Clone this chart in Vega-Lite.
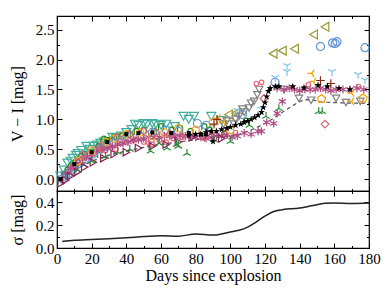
{
  "$schema": "https://vega.github.io/schema/vega-lite/v6.json",
  "padding": {"left": 8, "top": 14, "right": 5, "bottom": 5},
  "spacing": 0,
  "bounds": "flush",
  "config": {
    "view": {"stroke": "black", "strokeWidth": 1.2},
    "font": "Liberation Serif",
    "axis": {"labelFont": "Liberation Serif", "titleFont": "Liberation Serif", "labelFontSize": 15, "titleFontSize": 16, "labelColor": "black", "titleColor": "black", "titleFontWeight": "normal", "domain": false, "grid": false, "tickColor": "black", "tickWidth": 1, "labelFlush": false, "labelOverlap": false}
  },
  "datasets": {
    "pts": [
      {"s":"teal","d":2,"v":0.05},{"s":"teal","d":4,"v":0.15},{"s":"teal","d":6,"v":0.27},{"s":"teal","d":8,"v":0.3},{"s":"teal","d":9,"v":0.35},{"s":"teal","d":11,"v":0.4},{"s":"teal","d":12,"v":0.43},{"s":"teal","d":14,"v":0.48},{"s":"teal","d":17,"v":0.55},{"s":"teal","d":19,"v":0.5},{"s":"teal","d":21,"v":0.55},{"s":"teal","d":23,"v":0.57},{"s":"teal","d":25,"v":0.6},{"s":"teal","d":27,"v":0.62},{"s":"teal","d":28,"v":0.6},{"s":"teal","d":30,"v":0.63},{"s":"teal","d":32,"v":0.7},{"s":"teal","d":34,"v":0.68},{"s":"teal","d":37,"v":0.72},{"s":"teal","d":40,"v":0.78},{"s":"teal","d":43,"v":0.83},{"s":"teal","d":45,"v":0.92},{"s":"teal","d":47,"v":0.9},{"s":"teal","d":50,"v":0.93},{"s":"teal","d":52,"v":0.92},{"s":"teal","d":55,"v":0.93},{"s":"teal","d":57,"v":0.92},{"s":"teal","d":60,"v":0.9},{"s":"teal","d":63,"v":0.92},{"s":"teal","d":68,"v":0.88},{"s":"teal","d":73,"v":1.05},{"s":"teal","d":76,"v":1.0},{"s":"teal","d":79,"v":1.05},{"s":"teal","d":89,"v":1.05},{"s":"teal","d":95,"v":0.98},
      {"s":"green","d":2,"v":-0.03},{"s":"green","d":4,"v":0.08},{"s":"green","d":6,"v":0.15},{"s":"green","d":8,"v":0.22},{"s":"green","d":10,"v":0.27},{"s":"green","d":12,"v":0.3},{"s":"green","d":14,"v":0.38},{"s":"green","d":16,"v":0.42},{"s":"green","d":19,"v":0.45},{"s":"green","d":22,"v":0.42},{"s":"green","d":24,"v":0.55},{"s":"green","d":27,"v":0.67},{"s":"green","d":29,"v":0.65},{"s":"green","d":33,"v":0.7},{"s":"green","d":37,"v":0.72},{"s":"green","d":41,"v":0.75},{"s":"green","d":46,"v":0.8},{"s":"green","d":50,"v":0.82},{"s":"green","d":56,"v":0.8},{"s":"green","d":60,"v":0.88},{"s":"green","d":66,"v":0.82},{"s":"green","d":71,"v":0.85},{"s":"green","d":77,"v":0.8},{"s":"green","d":85,"v":0.88},{"s":"green","d":88,"v":0.82},{"s":"green","d":97,"v":0.75},{"s":"green","d":109,"v":0.97},
      {"s":"blue","d":3,"v":0.0},{"s":"blue","d":5,"v":0.05},{"s":"blue","d":7,"v":0.1},{"s":"blue","d":9,"v":0.15},{"s":"blue","d":10,"v":0.22},{"s":"blue","d":12,"v":0.25},{"s":"blue","d":14,"v":0.3},{"s":"blue","d":16,"v":0.33},{"s":"blue","d":18,"v":0.4},{"s":"blue","d":21,"v":0.42},{"s":"blue","d":25,"v":0.5},{"s":"blue","d":29,"v":0.55},{"s":"blue","d":33,"v":0.6},{"s":"blue","d":37,"v":0.65},{"s":"blue","d":42,"v":0.7},{"s":"blue","d":48,"v":0.72},{"s":"blue","d":55,"v":0.78},{"s":"blue","d":63,"v":0.82},{"s":"blue","d":70,"v":0.8},{"s":"blue","d":81,"v":0.93},{"s":"blue","d":86,"v":0.9},{"s":"blue","d":107,"v":1.08},{"s":"blue","d":125.8,"v":1.62},{"s":"blue","d":152,"v":2.22},{"s":"blue","d":159,"v":2.28},{"s":"blue","d":160.5,"v":2.27},{"s":"blue","d":161.5,"v":2.3},{"s":"blue","d":177.7,"v":2.2},
      {"s":"olive","d":99,"v":1.08},{"s":"olive","d":103,"v":1.1},{"s":"olive","d":124.7,"v":2.1},{"s":"olive","d":130,"v":2.15},{"s":"olive","d":137,"v":2.18},{"s":"olive","d":148,"v":2.42},{"s":"olive","d":154.6,"v":2.55},
      {"s":"lblue","d":104,"v":1.15},{"s":"lblue","d":118,"v":1.17},{"s":"lblue","d":126,"v":1.7},{"s":"lblue","d":132.7,"v":1.8},{"s":"lblue","d":132.7,"v":1.9},{"s":"lblue","d":158.7,"v":1.8},{"s":"lblue","d":173.7,"v":1.75},{"s":"lblue","d":177.7,"v":1.66},
      {"s":"gray","d":96,"v":0.92},{"s":"gray","d":98,"v":0.97},{"s":"gray","d":102,"v":0.92},{"s":"gray","d":103,"v":1.0},{"s":"gray","d":105,"v":1.05},{"s":"gray","d":107,"v":1.17},{"s":"gray","d":108,"v":1.12},{"s":"gray","d":110.8,"v":1.19},{"s":"gray","d":112,"v":1.27},{"s":"gray","d":113.7,"v":1.3},{"s":"gray","d":115.6,"v":1.41},{"s":"gray","d":116.6,"v":1.5},{"s":"gray","d":131,"v":1.5},{"s":"gray","d":139.6,"v":1.35},{"s":"gray","d":146.6,"v":1.32},{"s":"gray","d":161,"v":1.35},{"s":"gray","d":166.7,"v":1.28},{"s":"gray","d":175,"v":1.3},
      {"s":"pink","d":8,"v":0.2},{"s":"pink","d":12,"v":0.3},{"s":"pink","d":15,"v":0.35},{"s":"pink","d":18,"v":0.4},{"s":"pink","d":21,"v":0.42},{"s":"pink","d":25,"v":0.5},{"s":"pink","d":28,"v":0.48},{"s":"pink","d":31,"v":0.55},{"s":"pink","d":34,"v":0.5},{"s":"pink","d":37,"v":0.6},{"s":"pink","d":40,"v":0.62},{"s":"pink","d":44,"v":0.65},{"s":"pink","d":46,"v":0.67},{"s":"pink","d":50,"v":0.62},{"s":"pink","d":53,"v":0.6},{"s":"pink","d":55,"v":0.58},{"s":"pink","d":59,"v":0.65},{"s":"pink","d":63,"v":0.62},{"s":"pink","d":67,"v":0.68},{"s":"pink","d":72,"v":0.7},{"s":"pink","d":77,"v":0.72},{"s":"pink","d":84,"v":0.7},{"s":"pink","d":91,"v":0.75},{"s":"pink","d":97,"v":0.78},{"s":"pink","d":103,"v":0.78},{"s":"pink","d":115,"v":1.6},{"s":"pink","d":118,"v":1.62},{"s":"pink","d":145,"v":1.58},{"s":"pink","d":174,"v":1.55},
      {"s":"mauve","d":5,"v":0.1},{"s":"mauve","d":8,"v":0.18},{"s":"mauve","d":11,"v":0.25},{"s":"mauve","d":14,"v":0.3},{"s":"mauve","d":17,"v":0.37},{"s":"mauve","d":20,"v":0.42},{"s":"mauve","d":23,"v":0.47},{"s":"mauve","d":26,"v":0.5},{"s":"mauve","d":29,"v":0.52},{"s":"mauve","d":32,"v":0.55},{"s":"mauve","d":35,"v":0.58},{"s":"mauve","d":38,"v":0.6},{"s":"mauve","d":41,"v":0.62},{"s":"mauve","d":44,"v":0.65},{"s":"mauve","d":47,"v":0.66},{"s":"mauve","d":50,"v":0.68},{"s":"mauve","d":53,"v":0.7},{"s":"mauve","d":56,"v":0.69},{"s":"mauve","d":59,"v":0.7},{"s":"mauve","d":62,"v":0.72},{"s":"mauve","d":65,"v":0.72},{"s":"mauve","d":68,"v":0.71},{"s":"mauve","d":71,"v":0.73},{"s":"mauve","d":74,"v":0.72},{"s":"mauve","d":77,"v":0.72},{"s":"mauve","d":80,"v":0.7},{"s":"mauve","d":83,"v":0.7},{"s":"mauve","d":86,"v":0.68},{"s":"mauve","d":89,"v":0.7},{"s":"mauve","d":92,"v":0.72},{"s":"mauve","d":95,"v":0.72},{"s":"mauve","d":98,"v":0.74},{"s":"mauve","d":101,"v":0.7},{"s":"mauve","d":104,"v":0.72},{"s":"mauve","d":108,"v":0.77},{"s":"mauve","d":112,"v":0.75},{"s":"mauve","d":116,"v":0.8},{"s":"mauve","d":118,"v":0.8},{"s":"mauve","d":121,"v":0.95},{"s":"mauve","d":125,"v":0.93},{"s":"mauve","d":127,"v":1.1},{"s":"mauve","d":130,"v":1.3},{"s":"mauve","d":127,"v":1.52},{"s":"mauve","d":131,"v":1.5},{"s":"mauve","d":134,"v":1.52},{"s":"mauve","d":137,"v":1.5},{"s":"mauve","d":140,"v":1.48},{"s":"mauve","d":143,"v":1.5},{"s":"mauve","d":146,"v":1.5},{"s":"mauve","d":149,"v":1.5},{"s":"mauve","d":152,"v":1.52},{"s":"mauve","d":155,"v":1.5},{"s":"mauve","d":158,"v":1.48},{"s":"mauve","d":161,"v":1.5},{"s":"mauve","d":165,"v":1.5},{"s":"mauve","d":169,"v":1.5},{"s":"mauve","d":173,"v":1.52},{"s":"mauve","d":177,"v":1.5},
      {"s":"wine","d":2.3,"v":-0.07},{"s":"wine","d":5,"v":-0.02},{"s":"wine","d":8,"v":0.05},{"s":"wine","d":12,"v":0.12},{"s":"wine","d":16,"v":0.2},{"s":"wine","d":21,"v":0.28},{"s":"wine","d":27,"v":0.35},{"s":"wine","d":33,"v":0.42},{"s":"wine","d":40,"v":0.45},{"s":"wine","d":47,"v":0.52},{"s":"wine","d":55,"v":0.55},{"s":"wine","d":63,"v":0.58},{"s":"wine","d":70,"v":0.62},{"s":"wine","d":78,"v":0.7},{"s":"wine","d":87.7,"v":0.77},{"s":"wine","d":95,"v":0.68},
      {"s":"greent","d":12,"v":0.15},{"s":"greent","d":20,"v":0.3},{"s":"greent","d":28,"v":0.38},{"s":"greent","d":35,"v":0.45},{"s":"greent","d":42,"v":0.5},{"s":"greent","d":54,"v":0.47},{"s":"greent","d":58.8,"v":0.6},{"s":"greent","d":63.5,"v":0.52},{"s":"greent","d":69,"v":0.58},{"s":"greent","d":70,"v":0.55},{"s":"greent","d":75,"v":0.43},{"s":"greent","d":90.6,"v":0.66},{"s":"greent","d":100,"v":0.63},{"s":"greent","d":111,"v":0.9},{"s":"greent","d":120.6,"v":1.05},{"s":"greent","d":128,"v":1.18},{"s":"greent","d":151,"v":1.13},{"s":"greent","d":153,"v":1.13},
      {"s":"orangec","d":12,"v":0.3},{"s":"orangec","d":20,"v":0.48},{"s":"orangec","d":28,"v":0.62},{"s":"orangec","d":33,"v":0.68},{"s":"orangec","d":40,"v":0.75},{"s":"orangec","d":48,"v":0.78},{"s":"orangec","d":55,"v":0.72},{"s":"orangec","d":62,"v":0.78},{"s":"orangec","d":70,"v":0.85},{"s":"orangec","d":80,"v":0.82},{"s":"orangec","d":90,"v":0.95},{"s":"orangec","d":100,"v":0.82},
      {"s":"orange","d":93,"v":1.02},{"s":"orange","d":96,"v":0.95},{"s":"orange","d":147,"v":1.77},{"s":"orange","d":148,"v":1.63},{"s":"orange","d":170,"v":1.44},{"s":"orange","d":170,"v":1.3},
      {"s":"orangep","d":152.6,"v":1.34},{"s":"orangep","d":176.5,"v":1.35},
      {"s":"brown","d":90.6,"v":0.92},{"s":"brown","d":92.3,"v":1.0},{"s":"brown","d":152,"v":1.65},{"s":"brown","d":158,"v":1.6},
      {"s":"rose","d":15,"v":0.4},{"s":"rose","d":25,"v":0.55},{"s":"rose","d":35,"v":0.7},{"s":"rose","d":42,"v":0.75},{"s":"rose","d":50,"v":0.8},{"s":"rose","d":57,"v":0.78},{"s":"rose","d":65,"v":0.75},{"s":"rose","d":72,"v":0.72},{"s":"rose","d":85,"v":0.7},{"s":"rose","d":119.4,"v":1.35},{"s":"rose","d":154.6,"v":0.92},
      {"s":"blackstar","d":76,"v":0.73},{"s":"blackstar","d":80,"v":0.75},{"s":"blackstar","d":83,"v":0.75},{"s":"blackstar","d":86,"v":0.78},{"s":"blackstar","d":89,"v":0.8},{"s":"blackstar","d":90,"v":0.63},{"s":"blackstar","d":92,"v":0.8},{"s":"blackstar","d":95,"v":0.83},{"s":"blackstar","d":98,"v":0.85},{"s":"blackstar","d":100,"v":0.87},{"s":"blackstar","d":103,"v":0.9},{"s":"blackstar","d":106,"v":0.92},{"s":"blackstar","d":108,"v":0.95},{"s":"blackstar","d":110,"v":0.97},{"s":"blackstar","d":112,"v":1.0},{"s":"blackstar","d":114,"v":1.03},{"s":"blackstar","d":116,"v":1.07},{"s":"blackstar","d":118,"v":1.12},{"s":"blackstar","d":119,"v":1.2},{"s":"blackstar","d":120,"v":1.28},{"s":"blackstar","d":121,"v":1.38},{"s":"blackstar","d":122,"v":1.47},{"s":"blackstar","d":123,"v":1.52},{"s":"blackstar","d":126,"v":1.55},{"s":"blackstar","d":128,"v":1.55},{"s":"blackstar","d":136,"v":1.55},{"s":"blackstar","d":142.5,"v":1.53},{"s":"blackstar","d":150.6,"v":1.57},{"s":"blackstar","d":156,"v":1.55},{"s":"blackstar","d":162.7,"v":1.52},{"s":"blackstar","d":169,"v":1.5},
      {"s":"blacksq","d":2,"v":0.0},{"s":"blacksq","d":10,"v":0.25},{"s":"blacksq","d":20,"v":0.45},{"s":"blacksq","d":29,"v":0.62},{"s":"blacksq","d":40,"v":0.75},{"s":"blacksq","d":47,"v":0.77},{"s":"blacksq","d":55,"v":0.78},{"s":"blacksq","d":66,"v":0.77},{"s":"blacksq","d":76,"v":0.77},{"s":"blacksq","d":83,"v":0.75},{"s":"blacksq","d":86,"v":0.75}
    ],
    "dash": [
      {"d":0,"v":-0.05},{"d":5,"v":0.05},{"d":10,"v":0.15},{"d":20,"v":0.3},{"d":30,"v":0.4},{"d":40,"v":0.47},{"d":50,"v":0.53},{"d":60,"v":0.58},{"d":70,"v":0.62},{"d":80,"v":0.66},{"d":90,"v":0.69},{"d":100,"v":0.72},{"d":105,"v":0.75},{"d":110,"v":0.8},{"d":115,"v":0.86},{"d":120,"v":0.93},{"d":125,"v":1.02},{"d":130,"v":1.12},{"d":135,"v":1.21},{"d":140,"v":1.3},{"d":144,"v":1.33},{"d":148,"v":1.32},{"d":152,"v":1.29},{"d":160,"v":1.28},{"d":170,"v":1.27},{"d":180,"v":1.27}
    ],
    "sig": [
      {"d":3,"v":0.058},{"d":10,"v":0.068},{"d":20,"v":0.075},{"d":30,"v":0.082},{"d":40,"v":0.09},{"d":50,"v":0.1},{"d":60,"v":0.108},{"d":70,"v":0.104},{"d":80,"v":0.122},{"d":90,"v":0.113},{"d":100,"v":0.14},{"d":105,"v":0.155},{"d":110,"v":0.183},{"d":115,"v":0.23},{"d":120,"v":0.28},{"d":125,"v":0.32},{"d":130,"v":0.336},{"d":140,"v":0.35},{"d":145,"v":0.365},{"d":150,"v":0.38},{"d":155,"v":0.392},{"d":160,"v":0.394},{"d":170,"v":0.39},{"d":180,"v":0.394}
    ]
  },
  "vconcat": [
    {
      "width": 312,
      "height": 175,
      "layer": [
        {
          "data": {"name": "dash"},
          "mark": {"type": "line", "color": "#555555", "strokeWidth": 1.2, "strokeDash": [4, 3]},
          "encoding": {
            "x": {"field": "d", "type": "quantitative", "scale": {"domain": [0, 180], "nice": false},
                  "axis": {"orient": "top", "values": [0,10,20,30,40,50,60,70,80,90,100,110,120,130,140,150,160,170,180], "labels": false, "title": null,
                           "tickSize": {"condition": {"test": "datum.value % 20 === 0", "value": -5}, "value": -2.5}}},
            "y": {"field": "v", "type": "quantitative", "scale": {"domain": [-0.2, 2.73], "nice": false, "zero": false},
                  "axis": {"orient": "right", "values": [0,0.25,0.5,0.75,1,1.25,1.5,1.75,2,2.25,2.5], "labels": false, "title": null,
                           "tickSize": {"condition": {"test": "abs(datum.value*2 - round(datum.value*2)) < 0.01", "value": -5}, "value": -2.5}}}
          }
        },
        {
          "data": {"name": "pts"},
          "transform": [{"filter": "datum.s !== 'blackstar' && datum.s !== 'blacksq'"}],
          "mark": {"type": "point", "filled": false, "strokeWidth": 1.2, "opacity": 1},
          "encoding": {
            "x": {"field": "d", "type": "quantitative", "scale": {"domain": [0, 180], "nice": false},
                  "axis": {"orient": "bottom", "values": [0,10,20,30,40,50,60,70,80,90,100,110,120,130,140,150,160,170,180], "labels": false, "title": null,
                           "tickSize": {"condition": {"test": "datum.value % 20 === 0", "value": -5}, "value": -2.5}}},
            "y": {"field": "v", "type": "quantitative", "scale": {"domain": [-0.2, 2.73], "nice": false, "zero": false},
                  "axis": {"orient": "left", "values": [0,0.5,1,1.5,2,2.5], "format": ".1f", "ticks": false, "labelPadding": 3, "title": "V − I [mag]", "titlePadding": 10}},
            "color": {"field": "s", "type": "nominal", "legend": null,
                      "scale": {"domain": ["teal","green","blue","olive","lblue","gray","pink","mauve","wine","greent","orangec","orange","orangep","brown","rose","blackstar","blacksq"],
                                "range": ["#3FAE9C","#148A14","#5F95D8","#999933","#7CC4EA","#808080","#EE6677","#B04A82","#882255","#258A35","#F5A623","#F5A000","#F5A000","#8B2A10","#CC6677","#000000","#000000"]}},
            "shape": {"field": "s", "type": "nominal", "legend": null,
                      "scale": {"domain": ["teal","green","blue","olive","lblue","gray","pink","mauve","wine","greent","orangec","orange","orangep","brown","rose","blackstar","blacksq"],
                                "range": ["triangle-down","M-0.6,0.9L-0.6,-0.1A0.6,0.6 0 0 1 0.6,-0.1L0.6,0.9","circle","triangle-left","M0,0L0,1M0,0L-0.866,-0.5M0,0L0.866,-0.5","triangle-down","circle","M0,-1L0,1M-0.87,-0.5L0.87,0.5M-0.87,0.5L0.87,-0.5","triangle-right","M0,0L0,-1M0,0L-0.866,0.5M0,0L0.866,0.5","circle","M0,0L-1,0M0,0L0.5,-0.866M0,0L0.5,0.866","M0,-1L0.951,-0.309L0.588,0.809L-0.588,0.809L-0.951,-0.309Z","M-1,0L1,0M0,-1L0,1","diamond","M0,-1L0.235,-0.324L0.951,-0.309L0.38,0.124L0.588,0.809L0,0.4L-0.588,0.809L-0.38,0.124L-0.951,-0.309L-0.235,-0.324Z","square"]}},
            "size": {"field": "s", "type": "nominal", "legend": null,
                     "scale": {"type": "ordinal", "domain": ["teal","green","blue","olive","lblue","gray","pink","mauve","wine","greent","orangec","orange","orangep","brown","rose","blackstar","blacksq"],
                               "range": [80,70,65,80,75,55,20,65,55,75,55,75,75,75,60,55,16]}}
          }
        },
        {
          "data": {"name": "pts"},
          "transform": [{"filter": "datum.s === 'blackstar' || datum.s === 'blacksq'"}],
          "mark": {"type": "point", "filled": true, "opacity": 1},
          "encoding": {
            "x": {"field": "d", "type": "quantitative", "scale": {"domain": [0, 180], "nice": false}, "axis": null},
            "y": {"field": "v", "type": "quantitative", "scale": {"domain": [-0.2, 2.73], "nice": false, "zero": false},
                  "axis": {"orient": "left", "values": [0,0.25,0.5,0.75,1,1.25,1.5,1.75,2,2.25,2.5], "labels": false, "title": null,
                           "tickSize": {"condition": {"test": "abs(datum.value*2 - round(datum.value*2)) < 0.01", "value": -5}, "value": -2.5}}},
            "color": {"field": "s", "type": "nominal", "legend": null,
                      "scale": {"domain": ["teal","green","blue","olive","lblue","gray","pink","mauve","wine","greent","orangec","orange","orangep","brown","rose","blackstar","blacksq"],
                                "range": ["#3FAE9C","#148A14","#5F95D8","#999933","#7CC4EA","#808080","#EE6677","#B04A82","#882255","#258A35","#F5A623","#F5A000","#F5A000","#8B2A10","#CC6677","#000000","#000000"]}},
            "shape": {"field": "s", "type": "nominal", "legend": null,
                      "scale": {"domain": ["teal","green","blue","olive","lblue","gray","pink","mauve","wine","greent","orangec","orange","orangep","brown","rose","blackstar","blacksq"],
                                "range": ["triangle-down","M-0.6,0.9L-0.6,-0.1A0.6,0.6 0 0 1 0.6,-0.1L0.6,0.9","circle","triangle-left","M0,0L0,1M0,0L-0.866,-0.5M0,0L0.866,-0.5","triangle-down","circle","M0,-1L0,1M-0.87,-0.5L0.87,0.5M-0.87,0.5L0.87,-0.5","triangle-right","M0,0L0,-1M0,0L-0.866,0.5M0,0L0.866,0.5","circle","M0,0L-1,0M0,0L0.5,-0.866M0,0L0.5,0.866","M0,-1L0.951,-0.309L0.588,0.809L-0.588,0.809L-0.951,-0.309Z","M-1,0L1,0M0,-1L0,1","diamond","M0,-1L0.235,-0.324L0.951,-0.309L0.38,0.124L0.588,0.809L0,0.4L-0.588,0.809L-0.38,0.124L-0.951,-0.309L-0.235,-0.324Z","square"]}},
            "size": {"field": "s", "type": "nominal", "legend": null,
                     "scale": {"type": "ordinal", "domain": ["teal","green","blue","olive","lblue","gray","pink","mauve","wine","greent","orangec","orange","orangep","brown","rose","blackstar","blacksq"],
                               "range": [80,70,65,80,75,55,20,65,55,75,55,75,75,75,60,55,16]}}
          }
        }
      ],
      "resolve": {"axis": {"x": "independent", "y": "independent"}}
    },
    {
      "width": 312,
      "height": 57,
      "layer": [
        {
          "data": {"name": "sig"},
          "mark": {"type": "line", "color": "#222222", "strokeWidth": 1.5, "interpolate": "monotone"},
          "encoding": {
            "x": {"field": "d", "type": "quantitative", "scale": {"domain": [0, 180], "nice": false},
                  "axis": {"orient": "bottom", "values": [0,20,40,60,80,100,120,140,160,180], "ticks": false, "labelPadding": 3, "title": "Days since explosion", "titlePadding": 1}},
            "y": {"field": "v", "type": "quantitative", "scale": {"domain": [0, 0.5], "nice": false, "zero": false},
                  "axis": {"orient": "left", "values": [0,0.2,0.4], "format": ".1f", "ticks": false, "labelPadding": 3, "title": "σ [mag]", "titlePadding": 10}}
          }
        },
        {
          "data": {"name": "sig"},
          "mark": {"type": "line", "strokeOpacity": 0},
          "encoding": {
            "x": {"field": "d", "type": "quantitative", "scale": {"domain": [0, 180], "nice": false},
                  "axis": {"orient": "bottom", "values": [0,10,20,30,40,50,60,70,80,90,100,110,120,130,140,150,160,170,180], "labels": false, "title": null,
                           "tickSize": {"condition": {"test": "datum.value % 20 === 0", "value": -5}, "value": -2.5}}},
            "y": {"field": "v", "type": "quantitative", "scale": {"domain": [0, 0.5], "nice": false, "zero": false},
                  "axis": {"orient": "left", "values": [0,0.1,0.2,0.3,0.4], "labels": false, "title": null,
                           "tickSize": {"condition": {"test": "abs(datum.value*5 - round(datum.value*5)) < 0.01", "value": -5}, "value": -2.5}}}
          }
        },
        {
          "data": {"name": "sig"},
          "mark": {"type": "line", "strokeOpacity": 0},
          "encoding": {
            "x": {"field": "d", "type": "quantitative", "scale": {"domain": [0, 180], "nice": false},
                  "axis": {"orient": "top", "values": [0,10,20,30,40,50,60,70,80,90,100,110,120,130,140,150,160,170,180], "labels": false, "title": null,
                           "tickSize": {"condition": {"test": "datum.value % 20 === 0", "value": -5}, "value": -2.5}}},
            "y": {"field": "v", "type": "quantitative", "scale": {"domain": [0, 0.5], "nice": false, "zero": false},
                  "axis": {"orient": "right", "values": [0,0.1,0.2,0.3,0.4], "labels": false, "title": null,
                           "tickSize": {"condition": {"test": "abs(datum.value*5 - round(datum.value*5)) < 0.01", "value": -5}, "value": -2.5}}}
          }
        }
      ],
      "resolve": {"axis": {"x": "independent", "y": "independent"}}
    }
  ]
}
